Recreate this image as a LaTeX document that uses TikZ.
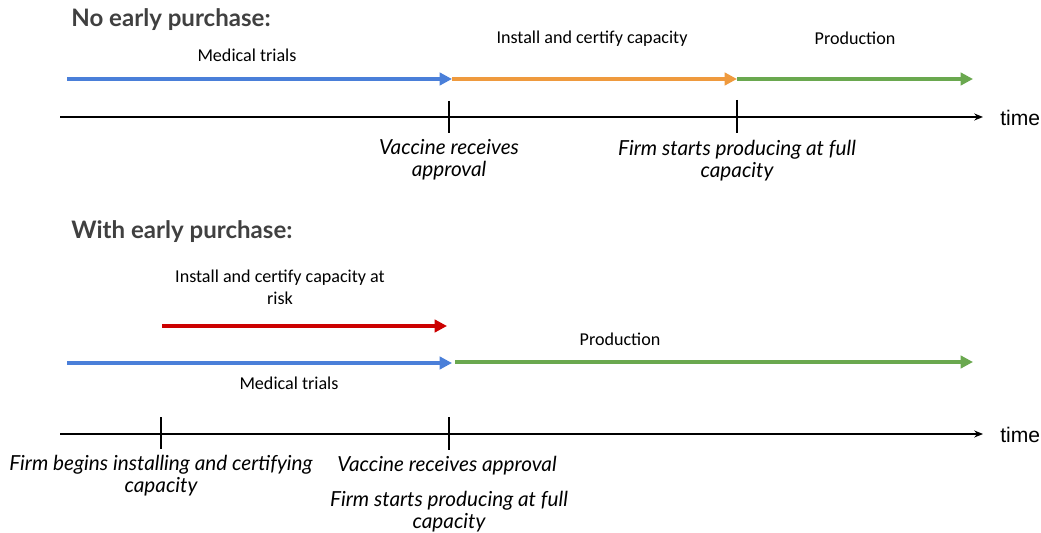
\documentclass[tikz,border=0pt]{standalone}
\usepackage{fontspec}
\setmainfont{Carlito}
\newfontfamily\headfont{Lato}
\newfontfamily\timefont{Liberation Sans}
\usetikzlibrary{arrows.meta}
\definecolor{trialblue}{HTML}{4A7FD9}
\definecolor{certorange}{HTML}{EF9A3E}
\definecolor{prodgreen}{HTML}{6AA84F}
\definecolor{riskred}{HTML}{CC0000}
\definecolor{headgray}{HTML}{404040}

\begin{document}
\begin{tikzpicture}[x=0.02cm,y=-0.02cm,
    phase/.style={line width=2.4pt,-{Triangle[length=7pt,width=7pt]}},
    axis/.style={line width=0.8pt,-{Stealth[length=5pt,width=4pt]}},
    tick/.style={line width=0.8pt},
    heading/.style={anchor=west,font=\headfont\bfseries\fontsize{13.7}{16}\selectfont,text=headgray,inner sep=0pt},
    phaselabel/.style={font=\fontsize{10.3}{12.5}\selectfont,align=center,inner sep=0pt},
    eventlabel/.style={font=\headfont\itshape\fontsize{11.8}{12.5}\selectfont,align=center,inner sep=0pt},
    timelabel/.style={anchor=west,font=\timefont\fontsize{12}{14}\selectfont,inner sep=0pt}]
  \useasboundingbox (0,0) rectangle (1041,533);

  %% No early purchase
  \node[heading] (h1) at (71,20) {No early purchase:};
  \coordinate (a1) at (67,79);
  \coordinate (a2) at (452,79);
  \coordinate (a3) at (737,79);
  \coordinate (a4) at (973,79);
  \draw[phase,trialblue] (a1) -- (a2);
  \draw[phase,certorange] (a2) -- (a3);
  \draw[phase,prodgreen] (a3) -- (a4);
  \node[phaselabel] (trials1) at (247,55) {Medical trials};
  \node[phaselabel] (cert1) at (592,39) {Install and certify capacity};
  \node[phaselabel] (prod1) at (855,38) {Production};
  %% Time axis
  \coordinate (t1s) at (60,117);
  \coordinate (t1e) at (983,117);
  \draw[axis] (t1s) -- (t1e);
  \node[timelabel] (time1) at (1000,118) {time};
  \draw[tick] (449,101) coordinate (k1a) -- (449,133) coordinate (k1b);
  \draw[tick] (737,100) coordinate (k2a) -- (737,133) coordinate (k2b);
  \node[eventlabel] (appr1) at (449,160) {Vaccine receives\\approval};
  \node[eventlabel] (full1) at (737,161) {Firm starts producing at full\\capacity};

  %% With early purchase
  \node[heading] (h2) at (71,232) {With early purchase:};
  \coordinate (r1) at (162,326);
  \coordinate (r2) at (447,326);
  \draw[phase,riskred] (r1) -- (r2);
  \node[phaselabel] (cert2) at (280,287) {Install and certify capacity at\\risk};
  \coordinate (b1) at (67,363);
  \coordinate (b2) at (452,363);
  \coordinate (g1) at (455,362);
  \coordinate (g2) at (973,362);
  \draw[phase,trialblue] (b1) -- (b2);
  \draw[phase,prodgreen] (g1) -- (g2);
  \node[phaselabel] (prod2) at (620,339) {Production};
  \node[phaselabel] (trials2) at (289,383) {Medical trials};
  %% Time axis
  \coordinate (t2s) at (60,434);
  \coordinate (t2e) at (983,434);
  \draw[axis] (t2s) -- (t2e);
  \node[timelabel] (time2) at (1000,435) {time};
  \draw[tick] (161,417) coordinate (k3a) -- (161,449) coordinate (k3b);
  \draw[tick] (449,417) coordinate (k4a) -- (449,450) coordinate (k4b);
  \node[eventlabel] (begin2) at (161,476) {Firm begins installing and certifying\\capacity};
  \node[eventlabel] (appr2) at (447,466) {Vaccine receives approval};
  \node[eventlabel] (full2) at (449,512) {Firm starts producing at full\\capacity};
\end{tikzpicture}
\end{document}
